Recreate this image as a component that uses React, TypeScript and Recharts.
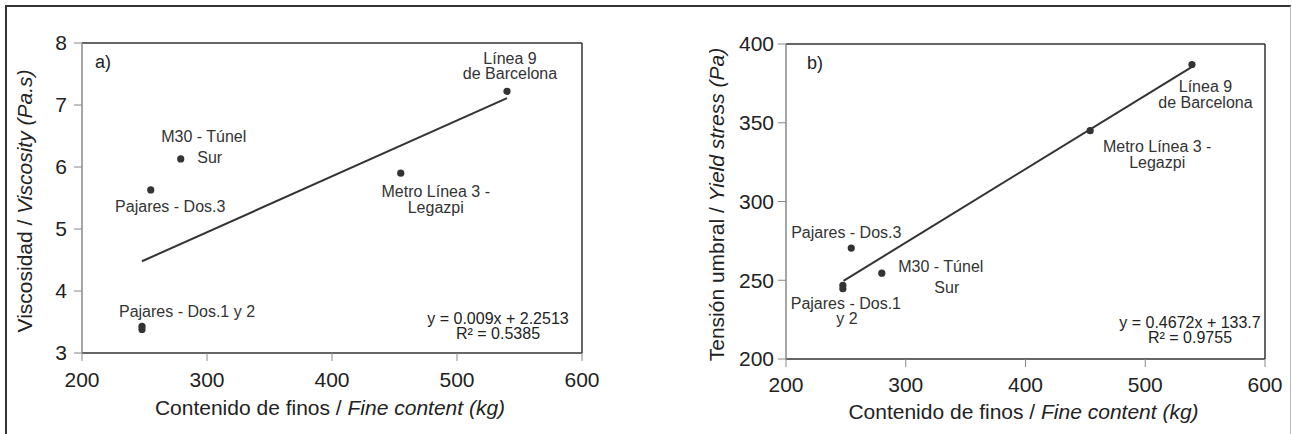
import React from 'react';
import { ScatterChart, Scatter, XAxis, YAxis, ReferenceLine, ReferenceArea, Label } from 'recharts';

// Obras / sites
const sites = [
  'Línea 9 de Barcelona',
  'Metro Línea 3 - Legazpi',
  'M30 - Túnel Sur',
  'Pajares - Dos.3',
  'Pajares - Dos.1',
  'Pajares - Dos.2',
];

// a) viscosidad
const fineContentA = [540, 455, 279, 255, 248, 248];
const viscosity = [7.22, 5.9, 6.13, 5.63, 3.43, 3.38];
const trendA = [
  { x: 248, y: 4.48 },
  { x: 540, y: 7.11 },
];
const eqA = ['y = 0.009x + 2.2513', 'R² = 0.5385'];

// b) tensión umbral
const fineContentB = [539, 454, 280, 254.5, 247.5, 247.5];
const yieldStress = [387, 345, 254.5, 270.4, 246.8, 244.6];
const trendB = [
  { x: 248, y: 249.6 },
  { x: 539, y: 385.5 },
];
const eqB = ['y = 0.4672x + 133.7', 'R² = 0.9755'];

const xTicks = [200, 300, 400, 500, 600];
const yTicksA = [3, 4, 5, 6, 7, 8];
const yTicksB = [200, 250, 300, 350, 400];

const FONT = '"Liberation Sans", Arial, Helvetica, sans-serif';
const INK = '#333';

type Line = [string, number, number];

// label lines per site index: text, dx, dy (px from the point)
const labelsA: Record<number, Line[]> = {
  0: [['Línea 9', 3, -33], ['de Barcelona', 3, -18]],
  1: [['Metro Línea 3 -', 35, 18], ['Legazpi', 35, 34]],
  2: [['M30 - Túnel', 23, -22], ['Sur', 29, -1]],
  3: [['Pajares - Dos.3', 19.5, 17]],
  4: [['Pajares - Dos.1 y 2', 45, -15]],
};
const labelsB: Record<number, Line[]> = {
  0: [['Línea 9', 13.5, 22.5], ['de Barcelona', 13.5, 38.5]],
  1: [['Metro Línea 3 -', 67, 16], ['Legazpi', 67, 32]],
  2: [['M30 - Túnel', 59, -7], ['Sur', 65, 14]],
  3: [['Pajares - Dos.3', -5, -16]],
  4: [['Pajares - Dos.1', 3, 18.5], ['y 2', 4, 33.5]],
};

const pointsA = sites.map((name, i) => ({ name, idx: i, x: fineContentA[i], y: viscosity[i] }));
const pointsB = sites.map((name, i) => ({ name, idx: i, x: fineContentB[i], y: yieldStress[i] }));

type PanelProps = {
  points: { name: string; idx: number; x: number; y: number }[];
  trend: { x: number; y: number }[];
  labels: Record<number, Line[]>;
  yDomain: [number, number];
  yTicks: number[];
  margin: { top: number; right: number; bottom: number; left: number };
  tag: string;
  tagPos: [number, number];
  eq: string[];
  eqPos: [number, number];
  yTitle: [string, string];
  yTitleX: number;
  yTickMargin: number;
  xTickMargin: number;
  xTitleDy: number;
};

const Panel: React.FC<PanelProps> = (p) => {
  const dot = (props: any) => {
    const { cx, cy, payload } = props;
    const lines = p.labels[payload.idx] || [];
    return (
      <g>
        <circle cx={cx} cy={cy} r={3.6} fill={INK} />
        {lines.map(([t, dx, dy], k) => (
          <text key={k} x={cx + dx} y={cy + dy} textAnchor="middle" dominantBaseline="central"
            fontSize={16} fill={INK} fontFamily={FONT}>{t}</text>
        ))}
      </g>
    );
  };

  return (
    <ScatterChart width={646} height={434} margin={p.margin}>
      <XAxis type="number" dataKey="x" domain={[200, 600]} ticks={xTicks} allowDataOverflow
        axisLine={{ stroke: INK, strokeWidth: 1.5 }} tickLine={{ stroke: '#888' }} tickSize={8}
        tickMargin={p.xTickMargin} height={30}
        tick={{ fill: '#222', fontSize: 21, fontFamily: FONT }}>
        <Label content={(lp: any) => {
          const vb = lp.viewBox;
          return (
            <text x={vb.x + vb.width / 2 - 2} y={vb.y + p.xTitleDy} textAnchor="middle" fontSize={21}
              fill="#222" fontFamily={FONT}>
              <tspan>Contenido de finos / </tspan>
              <tspan fontStyle="italic">Fine content (kg)</tspan>
            </text>
          );
        }} />
      </XAxis>
      <YAxis type="number" dataKey="y" domain={p.yDomain} ticks={p.yTicks} allowDataOverflow width={60}
        axisLine={{ stroke: '#888', strokeWidth: 1.5 }} tickLine={{ stroke: '#888' }} tickSize={8}
        tickMargin={p.yTickMargin}
        tick={{ fill: '#222', fontSize: 21, fontFamily: FONT }}>
        <Label content={(lp: any) => {
          const vb = lp.viewBox;
          const cy = vb.y + vb.height / 2 + 3;
          return (
            <text x={p.yTitleX} y={cy} transform={`rotate(-90 ${p.yTitleX} ${cy})`} textAnchor="middle"
              dominantBaseline="central" fontSize={21} fill="#222" fontFamily={FONT}>
              <tspan>{p.yTitle[0]}</tspan>
              <tspan fontStyle="italic">{p.yTitle[1]}</tspan>
            </text>
          );
        }} />
      </YAxis>
      <ReferenceLine y={p.yDomain[1]} stroke={INK} strokeWidth={1.5} />
      <ReferenceLine x={600} stroke={INK} strokeWidth={1.5} />
      <ReferenceArea x1={200} x2={600} y1={p.yDomain[0]} y2={p.yDomain[1]} fill="none" stroke="none"
        label={(lp: any) => {
          const vb = lp.viewBox;
          const right = vb.x + vb.width;
          const bottom = vb.y + vb.height;
          return (
            <g fontFamily={FONT} fill="#222">
              <text x={vb.x + p.tagPos[0]} y={vb.y + p.tagPos[1]} dominantBaseline="central" fontSize={18}>{p.tag}</text>
              {p.eq.map((t, k) => (
                <text key={k} x={right + p.eqPos[0]} y={bottom + p.eqPos[1] + k * 15} textAnchor="middle"
                  dominantBaseline="central" fontSize={16}>{t}</text>
              ))}
            </g>
          );
        }} />
      <Scatter data={p.trend} line={{ stroke: INK, strokeWidth: 2 }} shape={() => <g />} isAnimationActive={false} />
      <Scatter data={p.points} shape={dot} isAnimationActive={false} />
    </ScatterChart>
  );
};

export default function App() {
  return (
    <div style={{ position: 'absolute', left: 0, top: 0, width: 1292, height: 434, overflow: 'hidden', background: '#fff' }}>
      <div style={{
        position: 'absolute', left: 5, top: 5, width: 1283, height: 440,
        borderTop: '2px solid #333', borderLeft: '2px solid #333', borderRight: '1px solid #bbb',
      }} />
      <div style={{ position: 'absolute', left: 0, top: 0 }}>
        <Panel points={pointsA} trend={trendA} labels={labelsA} yDomain={[3, 8]} yTicks={yTicksA}
          margin={{ top: 43, right: 64, bottom: 51, left: 22 }}
          tag="a)" tagPos={[13, 19]} eq={eqA} eqPos={[-84, -35]}
          yTitle={['Viscosidad / ', 'Viscosity (Pa.s)']} yTitleX={24}
          yTickMargin={7} xTickMargin={11.5} xTitleDy={62} />
      </div>
      <div style={{ position: 'absolute', left: 646, top: 0 }}>
        <Panel points={pointsB} trend={trendB} labels={labelsB} yDomain={[200, 400]} yTicks={yTicksB}
          margin={{ top: 44, right: 27, bottom: 45, left: 80 }}
          tag="b)" tagPos={[21, 19]} eq={eqB} eqPos={[-75, -37]}
          yTitle={['Tensión umbral / ', 'Yield stress (Pa)']} yTitleX={70}
          yTickMargin={4} xTickMargin={10} xTitleDy={60} />
      </div>
    </div>
  );
}
